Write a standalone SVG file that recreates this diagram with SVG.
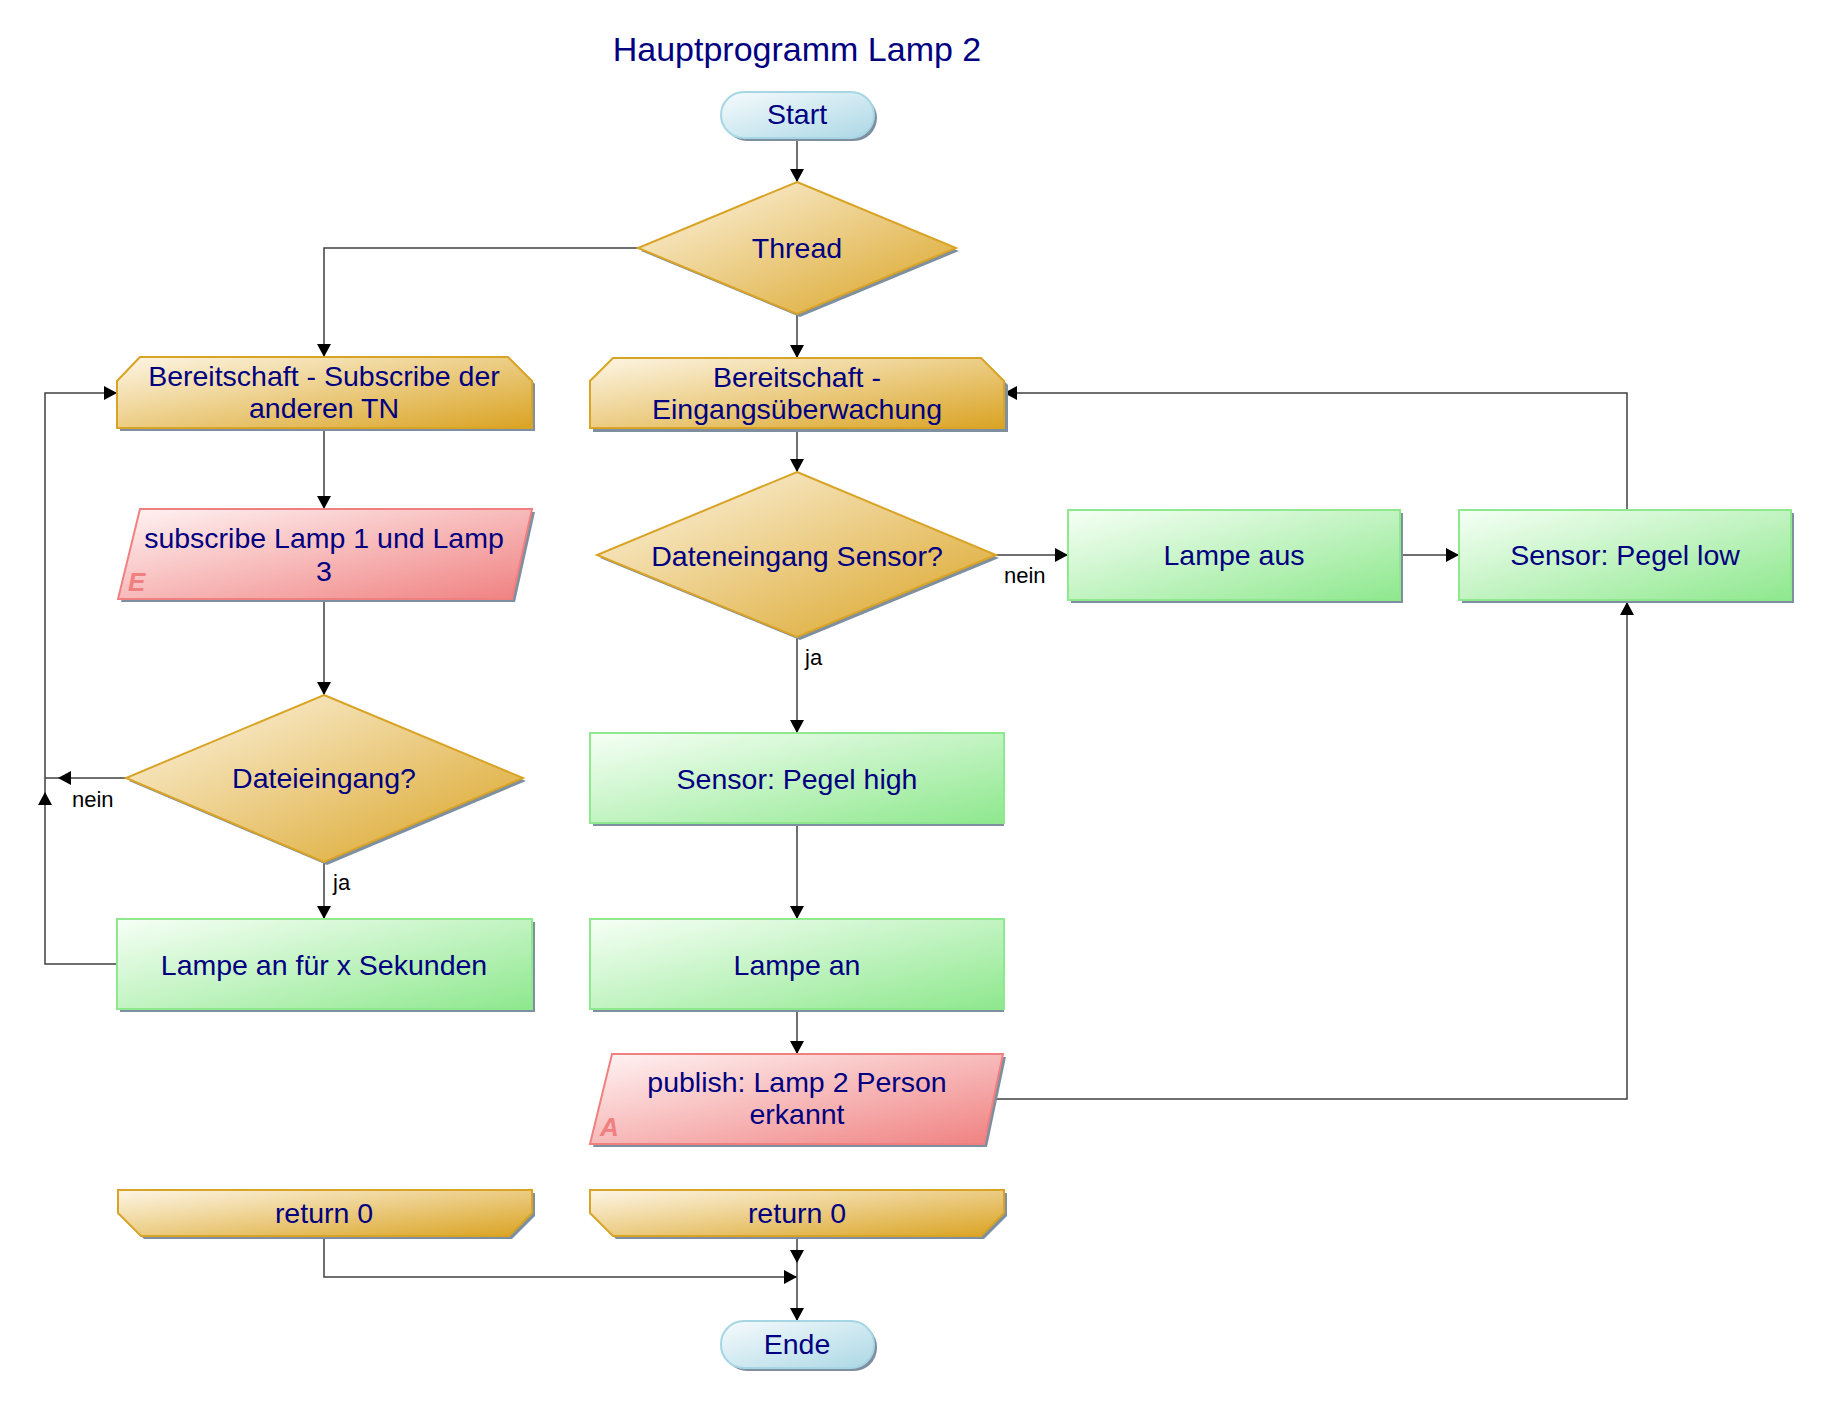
<svg xmlns="http://www.w3.org/2000/svg" width="1840" height="1410" viewBox="0 0 1840 1410">
<style>
.t{font-family:"Liberation Sans",Arial,sans-serif;font-size:28.5px;fill:#000080;text-anchor:middle}
.lbl{font-family:"Liberation Sans",Arial,sans-serif;font-size:22px;fill:#000000}
.io{font-family:"Liberation Sans",Arial,sans-serif;font-size:26px;font-weight:bold;font-style:italic;fill:#f08080}
.gold{fill:url(#gGold);stroke:#d9a326;stroke-width:2}
.green{fill:url(#gGreen);stroke:#8ee88e;stroke-width:2}
.pink{fill:url(#gPink);stroke:#f08080;stroke-width:2}
.blue{fill:url(#gBlue);stroke:#a6d6e4;stroke-width:2}
.sh{fill:#7e8fa0}
.c{fill:none;stroke:#404040;stroke-width:1.5}
.ca{fill:none;stroke:#404040;stroke-width:1.5;marker-end:url(#arr)}
</style>
<defs>
<linearGradient id="gGold" x1="0" y1="0" x2="1" y2="1"><stop offset="0" stop-color="#fdf6e6"/><stop offset="1" stop-color="#daa322"/></linearGradient>
<linearGradient id="gGreen" x1="0" y1="0" x2="1" y2="1"><stop offset="0" stop-color="#f6fff6"/><stop offset="1" stop-color="#8ee88e"/></linearGradient>
<linearGradient id="gPink" x1="0" y1="0" x2="1" y2="1"><stop offset="0" stop-color="#fff4f4"/><stop offset="1" stop-color="#f08080"/></linearGradient>
<linearGradient id="gBlue" x1="0" y1="0" x2="1" y2="1"><stop offset="0" stop-color="#f6fbfd"/><stop offset="1" stop-color="#acd8e5"/></linearGradient>
<marker id="arr" markerUnits="userSpaceOnUse" markerWidth="14" markerHeight="14" refX="13" refY="7" orient="auto"><path d="M0,0 L13,7 L0,14 z" fill="#000"/></marker>
</defs>
<rect width="1840" height="1410" fill="#fff"/>
<text x="797" y="61" style="font-family:'Liberation Sans',Arial,sans-serif;font-size:34px;fill:#000080;text-anchor:middle">Hauptprogramm Lamp 2</text>

<g id="connectors">
<path class="ca" d="M797,138 V182"/>
<path class="ca" d="M638,248 H324 V357"/>
<path class="ca" d="M797,314 V358"/>
<path class="ca" d="M324,428 V509"/>
<path class="ca" d="M324,599 V695"/>
<path class="ca" d="M324,862 V919"/>
<path class="ca" d="M126,778 H58"/>
<path class="c" d="M58,778 H45"/>
<path class="ca" d="M117,964 H45 V792"/>
<path class="ca" d="M45,792 V393 H117"/>
<path class="ca" d="M797,428 V472"/>
<path class="ca" d="M996,555 H1068"/>
<path class="ca" d="M797,637 V733"/>
<path class="ca" d="M797,823 V919"/>
<path class="ca" d="M797,1009 V1054"/>
<path class="ca" d="M993,1099 H1627 V602"/>
<path class="ca" d="M1400,555 H1459"/>
<path class="ca" d="M1627,510 V393 H1004"/>
<path class="ca" d="M324,1236 V1277 H797"/>
<path class="ca" d="M797,1236 V1263"/>
<path class="ca" d="M797,1263 V1321"/>
<text class="lbl" x="333" y="890">ja</text>
<text class="lbl" x="72" y="807">nein</text>
<text class="lbl" x="1004" y="583">nein</text>
<text class="lbl" x="805" y="665">ja</text>
</g>

<g id="start">
<rect class="sh" x="724" y="95" width="153" height="46" rx="23"/>
<rect class="blue" x="721" y="92" width="153" height="46" rx="23"/>
<text class="t" x="797" y="124">Start</text>
</g>

<g id="thread">
<polygon class="sh" points="800,185 959,251 800,317 641,251"/>
<polygon class="gold" points="797,182 956,248 797,314 638,248"/>
<text class="t" x="797" y="258">Thread</text>
</g>

<g id="bereit-left">
<polygon class="sh" points="143,360 511,360 535,384 535,431 120,431 120,384"/>
<polygon class="gold" points="140,357 508,357 532,381 532,428 117,428 117,381"/>
<text class="t" x="324" y="386">Bereitschaft - Subscribe der</text>
<text class="t" x="324" y="418">anderen TN</text>
</g>

<g id="bereit-right">
<polygon class="sh" points="616,361 984,361 1008,385 1008,432 593,432 593,385"/>
<polygon class="gold" points="613,358 981,358 1004,381 1004,428 590,428 590,381"/>
<text class="t" x="797" y="387">Bereitschaft -</text>
<text class="t" x="797" y="419">Eingangsüberwachung</text>
</g>

<g id="subscribe">
<polygon class="sh" points="143,512 535,512 515,602 121,602"/>
<polygon class="pink" points="140,509 532,509 512,599 118,599"/>
<text class="io" x="128" y="591">E</text>
<text class="t" x="324" y="548">subscribe Lamp 1 und Lamp</text>
<text class="t" x="324" y="581">3</text>
</g>

<g id="dateieingang">
<polygon class="sh" points="327,698 526,781 327,865 129,781"/>
<polygon class="gold" points="324,695 523,778 324,862 126,778"/>
<text class="t" x="324" y="788">Dateieingang?</text>
</g>

<g id="lampe-an-x">
<rect class="sh" x="120" y="922" width="415" height="90"/>
<rect class="green" x="117" y="919" width="415" height="90"/>
<text class="t" x="324" y="975">Lampe an für x Sekunden</text>
</g>

<g id="dateneingang-sensor">
<polygon class="sh" points="800,475 999,558 800,640 600,558"/>
<polygon class="gold" points="797,472 996,555 797,637 597,555"/>
<text class="t" x="797" y="566">Dateneingang Sensor?</text>
</g>

<g id="lampe-aus">
<rect class="sh" x="1071" y="513" width="332" height="90"/>
<rect class="green" x="1068" y="510" width="332" height="90"/>
<text class="t" x="1234" y="565">Lampe aus</text>
</g>

<g id="sensor-low">
<rect class="sh" x="1462" y="513" width="332" height="90"/>
<rect class="green" x="1459" y="510" width="332" height="90"/>
<text class="t" x="1625" y="565">Sensor: Pegel low</text>
</g>

<g id="sensor-high">
<rect class="sh" x="593" y="736" width="411" height="90"/>
<rect class="green" x="590" y="733" width="414" height="90"/>
<text class="t" x="797" y="789">Sensor: Pegel high</text>
</g>

<g id="lampe-an">
<rect class="sh" x="593" y="922" width="411" height="90"/>
<rect class="green" x="590" y="919" width="414" height="90"/>
<text class="t" x="797" y="975">Lampe an</text>
</g>

<g id="publish">
<polygon class="sh" points="615,1057 1006,1057 987,1147 593,1147"/>
<polygon class="pink" points="612,1054 1003,1054 984,1144 590,1144"/>
<text class="io" x="600" y="1136">A</text>
<text class="t" x="797" y="1092">publish: Lamp 2 Person</text>
<text class="t" x="797" y="1124">erkannt</text>
</g>

<g id="return-left">
<polygon class="sh" points="121,1193 535,1193 535,1216 512,1239 144,1239 121,1216"/>
<polygon class="gold" points="118,1190 532,1190 532,1213 509,1236 141,1236 118,1213"/>
<text class="t" x="324" y="1223">return 0</text>
</g>

<g id="return-right">
<polygon class="sh" points="593,1193 1007,1193 1007,1216 984,1239 616,1239 593,1216"/>
<polygon class="gold" points="590,1190 1004,1190 1004,1213 981,1236 613,1236 590,1213"/>
<text class="t" x="797" y="1223">return 0</text>
</g>

<g id="ende">
<rect class="sh" x="724" y="1324" width="153" height="47" rx="23"/>
<rect class="blue" x="721" y="1321" width="153" height="47" rx="23"/>
<text class="t" x="797" y="1354">Ende</text>
</g>
</svg>
